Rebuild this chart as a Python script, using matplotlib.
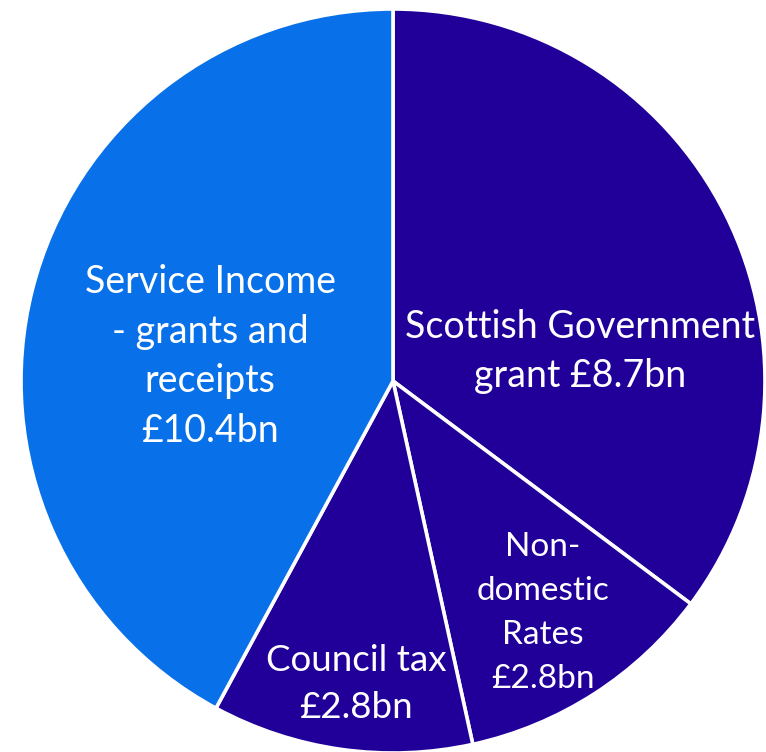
import matplotlib
matplotlib.use("Agg")
import matplotlib.pyplot as plt

categories = ["Scottish Government\ngrant £8.7bn", "Non-\ndomestic\nRates\n£2.8bn",
              "Council tax\n£2.8bn", "Service Income\n- grants and\nreceipts\n£10.4bn"]
values = [8.7, 2.8, 2.8, 10.4]
colors = ["#21009A", "#21009A", "#21009A", "#0870E8"]

W, H = 766, 752
cx, cy, R = 393, 381, 372

fig = plt.figure(figsize=(W / 100, H / 100), dpi=100)
ax = fig.add_axes([0, 0, 1, 1])
wedges, _ = ax.pie(values, colors=colors, startangle=90, counterclock=False,
                   wedgeprops=dict(edgecolor="white", linewidth=2.6))
ax.set_xlim(-cx / R, (W - cx) / R)
ax.set_ylim(-(H - cy) / R, cy / R)
ax.set_aspect("auto")
ax.axis("off")

# label anchor (pixel x centre, pixel y of last baseline), font size, line spacing
label_style = [((580, 387), 27, 1.44), ((543, 688), 24, 1.58),
               ((356, 718), 26.5, 1.52), ((210, 442), 27, 1.47)]
for lab, ((px, py), fs, ls) in zip(categories, label_style):
    ax.text((px - cx) / R, (cy - py) / R, lab, ha="center", va="baseline",
            color="white", fontsize=fs, clip_on=False,
            family=["Lato", "DejaVu Sans"], linespacing=ls, zorder=10)

fig.savefig("out.png", dpi=100)
